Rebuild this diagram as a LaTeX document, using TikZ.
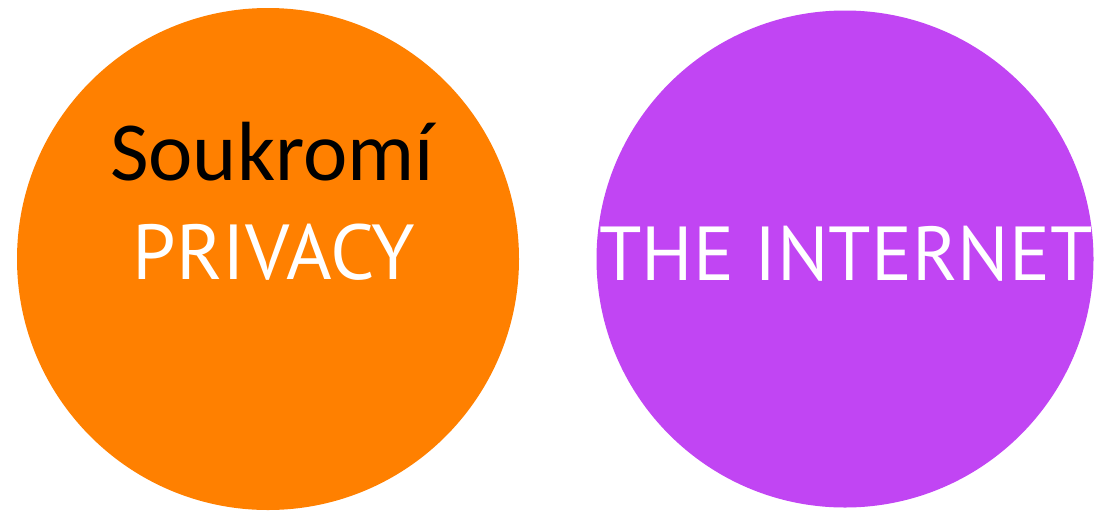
\documentclass[tikz,border=0pt]{standalone}
\usepackage{fontspec}
\setmainfont{Carlito}
\newfontfamily\labelfont{PT Sans}
\definecolor{orangeC}{RGB}{255,128,0}
\definecolor{purpleC}{RGB}{193,69,243}
\begin{document}
\begin{tikzpicture}[x=1pt,y=-1pt,
  disc/.style={circle,inner sep=0pt,minimum size=#1},
  captext/.style={text=white,font=\labelfont\fontsize{#1}{#1}\selectfont,anchor=base,inner sep=0pt}]
\useasboundingbox[fill=white] (0,0) rectangle (1095,512);
\node[disc=502pt,fill=orangeC] (left) at (268,259) {};
\node[disc=497pt,fill=purpleC] (right) at (845,259) {};
\node[anchor=base,inner sep=0pt,font=\fontsize{84}{84}\selectfont] (sk) at (272,180) {Soukromí};
\node[captext=78] (priv) at (274,279) {PRIVACY};
\node[captext=76.5] (inet) at (846,280) {THE INTERNET};
\end{tikzpicture}
\end{document}
